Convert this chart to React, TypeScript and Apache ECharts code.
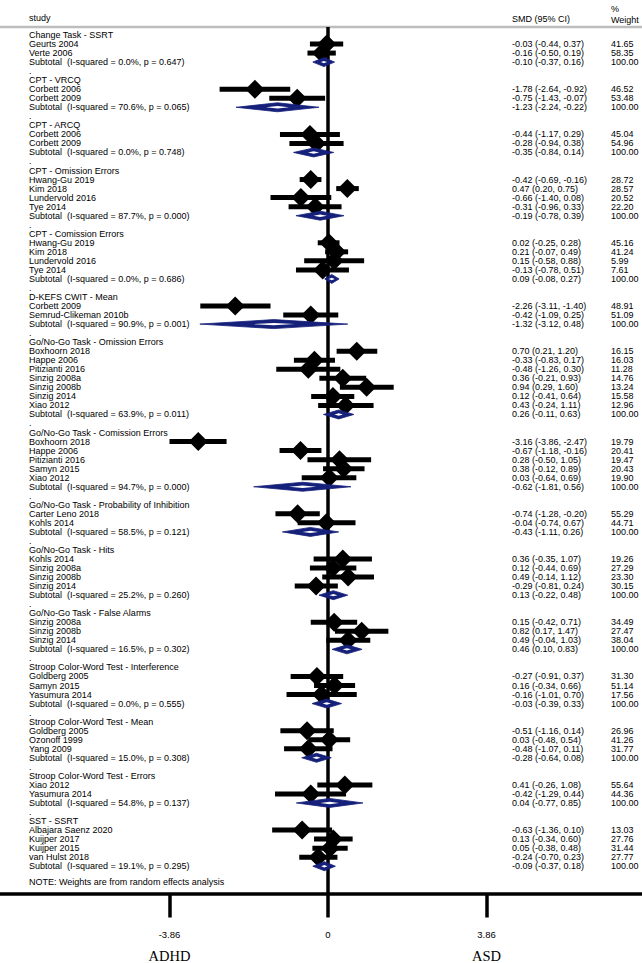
import React, { useEffect, useRef } from "react";
import * as echarts from "echarts";

// ---------- data ----------
const groupNames = [
  "Change Task - SSRT",
  "CPT - VRCQ",
  "CPT - ARCQ",
  "CPT - Omission Errors",
  "CPT - Comission Errors",
  "D-KEFS CWIT - Mean",
  "Go/No-Go Task - Omission Errors",
  "Go/No-Go Task - Comission Errors",
  "Go/No-Go Task - Probability of Inhibition",
  "Go/No-Go Task - Hits",
  "Go/No-Go Task - False Alarms",
  "Stroop Color-Word Test - Interference",
  "Stroop Color-Word Test - Mean",
  "Stroop Color-Word Test - Errors",
  "SST - SSRT",
];

const studyNames = [
  ["Geurts 2004", "Verte 2006"],
  ["Corbett 2006", "Corbett 2009"],
  ["Corbett 2006", "Corbett 2009"],
  ["Hwang-Gu 2019", "Kim 2018", "Lundervold 2016", "Tye 2014"],
  ["Hwang-Gu 2019", "Kim 2018", "Lundervold 2016", "Tye 2014"],
  ["Corbett 2009", "Semrud-Clikeman 2010b"],
  ["Boxhoorn 2018", "Happe 2006", "Pitizianti 2016", "Sinzig 2008a", "Sinzig 2008b", "Sinzig 2014", "Xiao 2012"],
  ["Boxhoorn 2018", "Happe 2006", "Pitizianti 2016", "Samyn 2015", "Xiao 2012"],
  ["Carter Leno 2018", "Kohls 2014"],
  ["Kohls 2014", "Sinzig 2008a", "Sinzig 2008b", "Sinzig 2014"],
  ["Sinzig 2008a", "Sinzig 2008b", "Sinzig 2014"],
  ["Goldberg 2005", "Samyn 2015", "Yasumura 2014"],
  ["Goldberg 2005", "Ozonoff 1999", "Yang 2009"],
  ["Xiao 2012", "Yasumura 2014"],
  ["Albajara Saenz 2020", "Kuijper 2017", "Kuijper 2015", "van Hulst 2018"],
];

const studySMD = [
  [-0.03, -0.16],
  [-1.78, -0.75],
  [-0.44, -0.28],
  [-0.42, 0.47, -0.66, -0.31],
  [0.02, 0.21, 0.15, -0.13],
  [-2.26, -0.42],
  [0.7, -0.33, -0.48, 0.36, 0.94, 0.12, 0.43],
  [-3.16, -0.67, 0.28, 0.38, 0.03],
  [-0.74, -0.04],
  [0.36, 0.12, 0.49, -0.29],
  [0.15, 0.82, 0.49],
  [-0.27, 0.16, -0.16],
  [-0.51, 0.03, -0.48],
  [0.41, -0.42],
  [-0.63, 0.13, 0.05, -0.24],
];

const studyLow = [
  [-0.44, -0.5],
  [-2.64, -1.43],
  [-1.17, -0.94],
  [-0.69, 0.2, -1.4, -0.96],
  [-0.25, -0.07, -0.58, -0.78],
  [-3.11, -1.09],
  [0.21, -0.83, -1.26, -0.21, 0.29, -0.41, -0.24],
  [-3.86, -1.18, -0.5, -0.12, -0.64],
  [-1.28, -0.74],
  [-0.35, -0.44, -0.14, -0.81],
  [-0.42, 0.17, -0.04],
  [-0.91, -0.34, -1.01],
  [-1.16, -0.48, -1.07],
  [-0.26, -1.29],
  [-1.36, -0.34, -0.38, -0.7],
];

const studyHigh = [
  [0.37, 0.19],
  [-0.92, -0.07],
  [0.29, 0.38],
  [-0.16, 0.75, 0.08, 0.33],
  [0.28, 0.49, 0.88, 0.51],
  [-1.4, 0.25],
  [1.2, 0.17, 0.3, 0.93, 1.6, 0.64, 1.11],
  [-2.47, -0.16, 1.05, 0.89, 0.69],
  [-0.2, 0.67],
  [1.07, 0.69, 1.12, 0.24],
  [0.71, 1.47, 1.03],
  [0.37, 0.66, 0.7],
  [0.14, 0.54, 0.11],
  [1.08, 0.44],
  [0.1, 0.6, 0.48, 0.23],
];

const studyWeight = [
  [41.65, 58.35],
  [46.52, 53.48],
  [45.04, 54.96],
  [28.72, 28.57, 20.52, 22.2],
  [45.16, 41.24, 5.99, 7.61],
  [48.91, 51.09],
  [16.15, 16.03, 11.28, 14.76, 13.24, 15.58, 12.96],
  [19.79, 20.41, 19.47, 20.43, 19.9],
  [55.29, 44.71],
  [19.26, 27.29, 23.3, 30.15],
  [34.49, 27.47, 38.04],
  [31.3, 51.14, 17.56],
  [26.96, 41.26, 31.77],
  [55.64, 44.36],
  [13.03, 27.76, 31.44, 27.77],
];

const subtotalSMD = [-0.1, -1.23, -0.35, -0.19, 0.09, -1.32, 0.26, -0.62, -0.43, 0.13, 0.46, -0.03, -0.28, 0.04, -0.09];
const subtotalLow = [-0.37, -2.24, -0.84, -0.78, -0.08, -3.12, -0.11, -1.81, -1.11, -0.22, 0.1, -0.39, -0.64, -0.77, -0.37];
const subtotalHigh = [0.16, -0.22, 0.14, 0.39, 0.27, 0.48, 0.63, 0.56, 0.26, 0.48, 0.83, 0.33, 0.08, 0.85, 0.18];
const subtotalI2 = ["0.0%", "70.6%", "0.0%", "87.7%", "0.0%", "90.9%", "63.9%", "94.7%", "58.5%", "25.2%", "16.5%", "0.0%", "15.0%", "54.8%", "19.1%"];
const subtotalP = ["0.647", "0.065", "0.748", "0.000", "0.686", "0.001", "0.011", "0.000", "0.121", "0.260", "0.302", "0.555", "0.308", "0.137", "0.295"];

const tickValues = [-3.86, 0, 3.86];
const tickSideLabels = ["ADHD", "", "ASD"];
const noteText = "NOTE: Weights are from random effects analysis";

// ---------- layout ----------
const W = 642;
const H = 963;
const PX_ZERO = 328;
const PX_PER_UNIT = 158.5 / 3.86;
const ROW0_Y = 35;
const ROW_H = 9.04;
const GRID_TOP = 27;
const AXIS_Y = 894;
const X_MIN = -PX_ZERO / PX_PER_UNIT;
const X_MAX = (W - PX_ZERO) / PX_PER_UNIT;
const Y_MIN = -(ROW0_Y - GRID_TOP) / ROW_H;
const Y_MAX = (AXIS_Y - ROW0_Y) / ROW_H;
const COL_LABEL = (29 - PX_ZERO) / PX_PER_UNIT;
const COL_SMD = (512 - PX_ZERO) / PX_PER_UNIT;
const COL_WT = (611 - PX_ZERO) / PX_PER_UNIT;
const FONT = "'Liberation Sans', Arial, Helvetica, sans-serif";
const FS = 9;
const NAVY = "#15207a";

const f2 = (v: number) => v.toFixed(2);
const ciText = (e: number, l: number, h: number) => `${f2(e)} (${f2(l)}, ${f2(h)})`;

type TextItem = { x: number; row: number; t: string };

function buildRows() {
  const texts: TextItem[] = [];
  const ci: number[][] = [];
  const pts: number[][] = [];
  const subs: number[][] = [];
  let r = 0;
  groupNames.forEach((g, gi) => {
    texts.push({ x: COL_LABEL, row: r, t: g });
    r++;
    studyNames[gi].forEach((s, si) => {
      const e = studySMD[gi][si];
      const l = studyLow[gi][si];
      const h = studyHigh[gi][si];
      texts.push({ x: COL_LABEL, row: r, t: s });
      texts.push({ x: COL_SMD, row: r, t: ciText(e, l, h) });
      texts.push({ x: COL_WT, row: r, t: f2(studyWeight[gi][si]) });
      ci.push([l, h, r]);
      pts.push([e, r]);
      r++;
    });
    texts.push({
      x: COL_LABEL,
      row: r,
      t: `Subtotal  (I-squared = ${subtotalI2[gi]}, p = ${subtotalP[gi]})`,
    });
    texts.push({ x: COL_SMD, row: r, t: ciText(subtotalSMD[gi], subtotalLow[gi], subtotalHigh[gi]) });
    texts.push({ x: COL_WT, row: r, t: "100.00" });
    subs.push([subtotalSMD[gi], subtotalLow[gi], subtotalHigh[gi], r]);
    r++;
    if (gi < groupNames.length - 1) {
      texts.push({ x: COL_LABEL, row: r, t: "." });
      r++;
    }
  });
  texts.push({ x: COL_LABEL, row: r + 0.7, t: noteText });
  return { texts, ci, pts, subs };
}

export default function App() {
  const ref = useRef<HTMLDivElement>(null);
  useEffect(() => {
    if (!ref.current) return;
    const chart = echarts.init(ref.current, undefined, { renderer: "svg" });
    const { texts, ci, pts, subs } = buildRows();

    const option: any = {
      animation: false,
      backgroundColor: "#ffffff",
      grid: { left: 0, right: 0, top: GRID_TOP, bottom: H - AXIS_Y, containLabel: false },
      xAxis: {
        type: "value",
        min: X_MIN,
        max: X_MAX,
        splitLine: { show: false },
        axisLine: { show: true, onZero: false, lineStyle: { color: "#000", width: 3.5 } },
        axisTick: {
          show: true,
          customValues: tickValues,
          length: 24,
          lineStyle: { color: "#000", width: 3.5 },
        },
        axisLabel: {
          show: true,
          customValues: tickValues,
          margin: 33,
          formatter: (v: number) => {
            const i = tickValues.findIndex((t) => Math.abs(t - v) < 1e-6);
            const side = i >= 0 ? tickSideLabels[i] : "";
            const txt = Math.abs(v) < 1e-9 ? "0" : v.toFixed(2);
            return `{v|${txt}}\n{n|${side || " "}}`;
          },
          rich: {
            v: { fontFamily: FONT, fontSize: 9.5, lineHeight: 16, color: "#000" },
            n: { fontFamily: "'Liberation Serif', 'Times New Roman', serif", fontSize: 14.5, lineHeight: 26, color: "#000" },
          },
        },
      },
      yAxis: {
        type: "value",
        inverse: true,
        min: Y_MIN,
        max: Y_MAX,
        show: false,
      },
      graphic: [
        {
          type: "line",
          shape: { x1: 0, y1: GRID_TOP, x2: W, y2: GRID_TOP },
          style: { stroke: "#bdbdbd", lineWidth: 2.5 },
          z: 1,
        },
        { type: "text", x: 29, y: 18, style: { text: "study", font: `${FS}px ${FONT}`, fill: "#000", textVerticalAlign: "middle" } },
        { type: "text", x: 512, y: 19, style: { text: "SMD (95% CI)", font: `${FS}px ${FONT}`, fill: "#000", textVerticalAlign: "middle" } },
        { type: "text", x: 611, y: 9, style: { text: "%", font: `${FS}px ${FONT}`, fill: "#000", textVerticalAlign: "middle" } },
        { type: "text", x: 611, y: 20, style: { text: "Weight", font: `${FS}px ${FONT}`, fill: "#000", textVerticalAlign: "middle" } },
      ],
      series: [
        {
          type: "custom",
          name: "ci",
          silent: true,
          data: ci,
          encode: { x: [0, 1], y: 2 },
          z: 3,
          renderItem: (params: any, api: any) => {
            const p1 = api.coord([api.value(0), api.value(2)]);
            const p2 = api.coord([api.value(1), api.value(2)]);
            return {
              type: "line",
              shape: { x1: p1[0], y1: p1[1], x2: p2[0], y2: p2[1] },
              style: { stroke: "#000", lineWidth: 5 },
            };
          },
          markLine: {
            silent: true,
            symbol: "none",
            label: { show: false },
            lineStyle: { color: "#000", width: 3.5, type: "solid" },
            data: [{ xAxis: 0 }],
          },
        },
        {
          type: "scatter",
          name: "studies",
          silent: true,
          data: pts,
          symbol: "diamond",
          symbolSize: 19,
          itemStyle: { color: "#000", opacity: 1 },
          z: 4,
        },
        {
          type: "custom",
          name: "subtotals",
          silent: true,
          data: subs,
          encode: { x: [0, 1, 2], y: 3 },
          z: 5,
          renderItem: (params: any, api: any) => {
            const c = api.coord([api.value(0), api.value(3)]);
            const l = api.coord([api.value(1), api.value(3)]);
            const h = api.coord([api.value(2), api.value(3)]);
            const hh = 4.5;
            const w = h[0] - l[0];
            const iw = Math.max(3, w * 0.14);
            return {
              type: "group",
              children: [
                {
                  type: "polygon",
                  shape: { points: [[l[0], c[1]], [c[0], c[1] - hh], [h[0], c[1]], [c[0], c[1] + hh]] },
                  style: { fill: NAVY, stroke: NAVY, lineWidth: 0.8 },
                },
                {
                  type: "polygon",
                  shape: { points: [[c[0] - iw, c[1]], [c[0], c[1] - 1.2], [c[0] + iw, c[1]], [c[0], c[1] + 1.2]] },
                  style: { fill: "#ffffff" },
                },
              ],
            };
          },
        },
        {
          type: "custom",
          name: "texts",
          silent: true,
          data: texts.map((t) => [t.x, t.row]),
          encode: { x: 0, y: 1 },
          z: 6,
          renderItem: (params: any, api: any) => {
            const p = api.coord([api.value(0), api.value(1)]);
            const item = texts[params.dataIndex];
            return {
              type: "text",
              x: p[0],
              y: p[1],
              style: {
                text: item.t,
                font: `${FS}px ${FONT}`,
                fill: "#000",
                textAlign: "left",
                textVerticalAlign: "middle",
              },
            };
          },
        },
      ],
    };
    chart.setOption(option);
    return () => chart.dispose();
  }, []);

  return (
    <div
      ref={ref}
      style={{ position: "absolute", left: 0, top: 0, width: W, height: H, background: "#fff" }}
    />
  );
}
